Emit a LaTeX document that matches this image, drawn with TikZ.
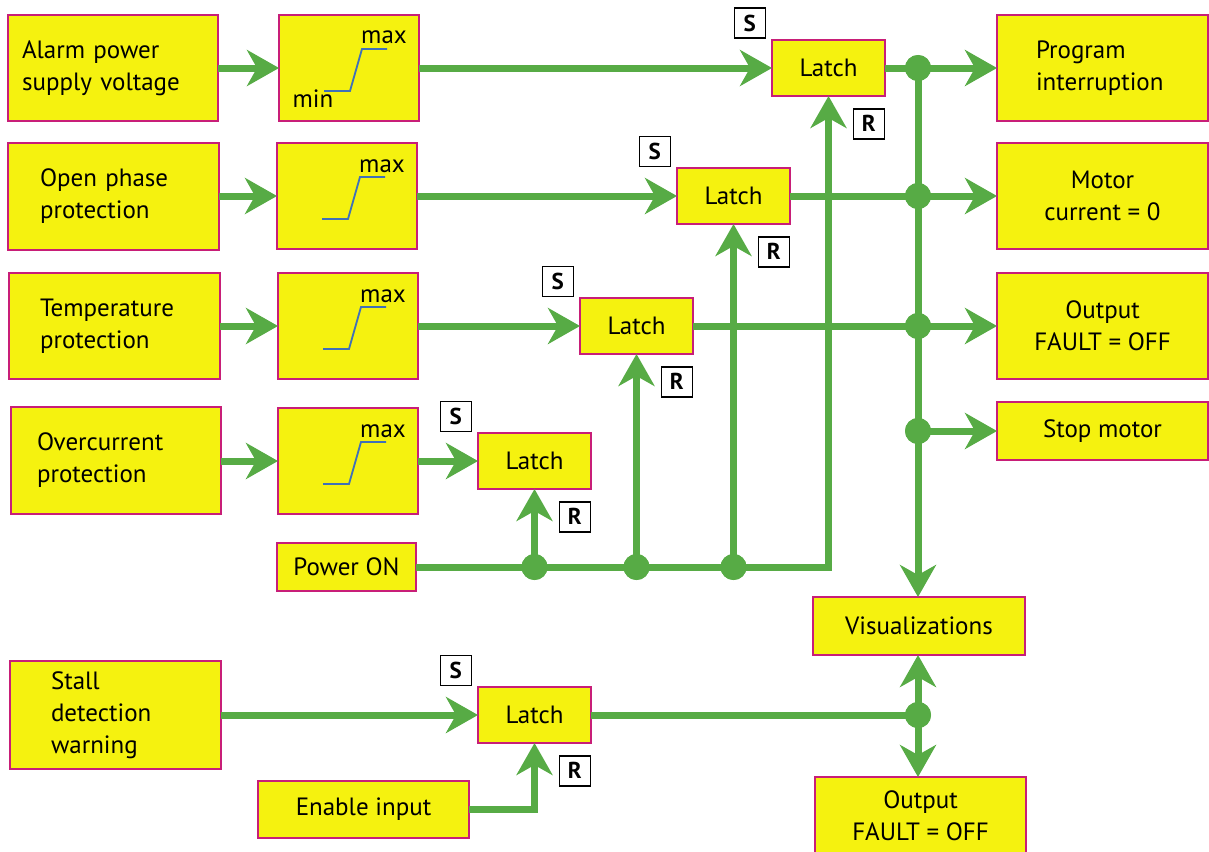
\documentclass[tikz,border=0pt]{standalone}
\usepackage{fontspec}
\setmainfont{PT Sans}
\usetikzlibrary{arrows.meta,calc}
\definecolor{fillY}{HTML}{F5F20F}
\definecolor{edgeM}{HTML}{C81E78}
\definecolor{lineG}{HTML}{57AB45}
\definecolor{curveB}{HTML}{3F70B8}
\tikzset{
  box/.style={draw=edgeM, fill=fillY, line width=1.6pt, inner sep=0pt, outer sep=0pt, align=center,
    anchor=north west, font=\fontsize{25}{32}\selectfont},
  lbox/.style 2 args={box, align=left, inner xsep=#1, text width=#2},
  latch/.style={box, minimum width=113pt, minimum height=56pt},
  thbox/.style={box, minimum width=140pt, minimum height=106pt},
  conn/.style={draw=lineG, line width=7pt},
  arr/.style={conn, -{Stealth[length=32pt,width=36pt,inset=10pt]}},
  dot/.style={circle, fill=lineG, minimum size=26pt, inner sep=0pt},
  sr/.style={draw=black, fill=white, line width=1.5pt, minimum width=31pt, minimum height=30pt,
    inner sep=0pt, font=\bfseries\fontsize{23}{23}\selectfont},
  curve/.style={draw=curveB, line width=1.8pt},
  lim/.style={font=\fontsize{25}{25}\selectfont, anchor=base, inner sep=0pt},
  thr/.pic={\draw[curve] (45,76) -- (71,76) -- (83,34) -- (108,34);
            \node[lim] at (105,29) {max};}
}
\begin{document}
\begin{tikzpicture}[x=1pt,y=-1pt]
\useasboundingbox (0,0) rectangle (1209,851);

% left input boxes
\node[lbox={14pt}{182pt}, minimum width=210pt, minimum height=106pt] (A1) at (8,15) {Alarm power\\supply voltage};
\node[lbox={32pt}{147pt}, minimum width=211pt, minimum height=107pt] (A2) at (8,143) {Open phase\\protection};
\node[lbox={31pt}{149pt}, minimum width=211pt, minimum height=106pt] (A3) at (9,273) {Temperature\\protection};
\node[lbox={26pt}{158pt}, minimum width=210pt, minimum height=107pt] (A4) at (11,407) {Overcurrent\\protection};
\node[lbox={41pt}{129pt}, minimum width=211pt, minimum height=108pt] (st) at (10,661) {Stall\\detection\\warning};
\node[box, minimum width=139pt, minimum height=48pt] (pw) at (277,543) {Power ON};
\node[box, minimum width=211pt, minimum height=57pt] (en) at (258,781) {Enable input};

% threshold boxes
\node[thbox] (T1) at (279,15) {};
\node[thbox] (T2) at (277,143) {};
\node[thbox] (T3) at (278,273) {};
\node[thbox] (T4) at (278,408) {};
\pic at (T1.north west) {thr};
\pic at (T2.north west) {thr};
\pic at (T3.north west) {thr};
\pic at (T4.north west) {thr};
\node[lim] at ($(T1.north west)+(34,92)$) {min};

% latches
\node[latch] (L1) at (772,40) {Latch};
\node[latch] (L2) at (677,168) {Latch};
\node[latch] (L3) at (580,298) {Latch};
\node[latch] (L4) at (478,433) {Latch};
\node[latch] (L5) at (478,687) {Latch};

% outputs
\node[lbox={39pt}{133pt}, minimum width=211pt, minimum height=106pt] (PI) at (997,15) {Program\\interruption};
\node[box, minimum width=211pt, minimum height=106pt] (MC) at (997,143) {Motor\\current = 0};
\node[box, minimum width=211pt, minimum height=106pt] (OF) at (997,273) {Output\\FAULT = OFF};
\node[box, minimum width=211pt, minimum height=58pt] (SM) at (997,402) {Stop motor};
\node[box, minimum width=212pt, minimum height=58pt] (VI) at (813,597) {Visualizations};
\node[box, minimum width=211pt, minimum height=78pt] (O2) at (815,777) {Output\\FAULT = OFF};

% S/R labels
\foreach \l in {L1,L2,L3,L4,L5}{
  \node[sr, anchor=south east] (\l s) at ([xshift=-6pt,yshift=1pt]\l.north west) {S};
  \node[sr, anchor=north east] (\l r) at ([yshift=-12pt]\l.south east) {R};
}

% bus dots
\node[dot] (b1) at (918,68) {};
\node[dot] (b2) at (918,196) {};
\node[dot] (b3) at (918,326) {};
\node[dot] (b4) at (918,431) {};
\node[dot] (b5) at (918,715) {};
\node[dot] (p4) at (L4.south |- pw.east) {};
\node[dot] (p3) at (L3.south |- pw.east) {};
\node[dot] (p2) at (L2.south |- pw.east) {};

% connectors
\draw[arr] (A1.east |- T1.west) -- (T1.west);
\draw[arr] (A2.east |- T2.west) -- (T2.west);
\draw[arr] (A3.east |- T3.west) -- (T3.west);
\draw[arr] (A4.east |- T4.west) -- (T4.west);
\draw[arr] (T1.east |- L1.west) -- (L1.west);
\draw[arr] (T2.east |- L2.west) -- (L2.west);
\draw[arr] (T3.east |- L3.west) -- (L3.west);
\draw[arr] (T4.east |- L4.west) -- (L4.west);
\draw[conn] (L1.east) -- (L1.east -| b1.center);
\draw[conn] (L2.east) -- (L2.east -| b2.center);
\draw[conn] (L3.east) -- (L3.east -| b3.center);
\draw[arr] (b1.center) -- (b1.center -| PI.west);
\draw[arr] (b2.center) -- (b2.center -| MC.west);
\draw[arr] (b3.center) -- (b3.center -| OF.west);
\draw[arr] (b4.center) -- (b4.center -| SM.west);
\draw[conn] (b1.center) -- (b4.center);
\draw[arr] (b4.center) -- (b4.center |- VI.north);
\draw[arr] (pw.east) -| (L1.south);
\draw[arr] (p4.center) -- (L4.south);
\draw[arr] (p3.center) -- (L3.south);
\draw[arr] (p2.center) -- (L2.south);
\draw[arr] (st.east |- L5.west) -- (L5.west);
\draw[conn] (L5.east) -- (L5.east -| b5.center);
\draw[arr] (b5.center) -- (b5.center |- VI.south);
\draw[arr] (b5.center) -- (b5.center |- O2.north);
\draw[arr] (en.east) -| (L5.south);
% dots on top
\foreach \d in {b1,b2,b3,b4,b5,p4,p3,p2}{\fill[lineG] (\d) circle (13pt);}
\end{tikzpicture}
\end{document}
